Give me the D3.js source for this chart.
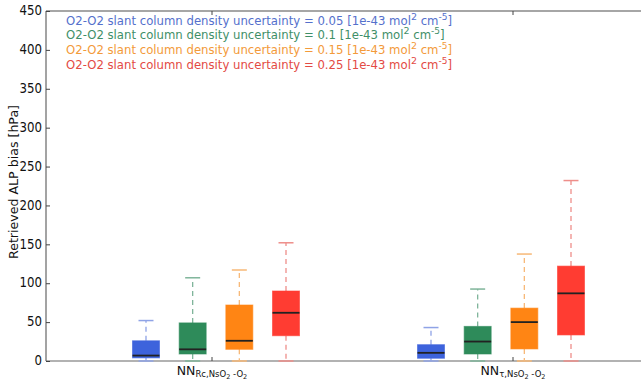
<!DOCTYPE html>
<html><head><meta charset="utf-8">
<script src="https://cdn.jsdelivr.net/npm/d3@7"></script>
<style>body{margin:0;background:#fff}svg{display:block}text{font-family:"DejaVu Sans",sans-serif}</style>
</head><body><svg id="c" width="641" height="380"></svg>
<script>
const groups = ["Rc", "τ"];
const seriesNames = ["0.05", "0.1", "0.15", "0.25"];
const boxColors = ["#3d63dc", "#2e8b5a", "#ff8514", "#ff3c32"];
const textColors = ["#5470cc", "#3f8f68", "#f39a3a", "#e34a44"];
const whiskerColors = ["#8fa3e6", "#7fb59a", "#f7b877", "#ee8e8a"];
// [group][series] = [low, q1, median, q3, high]
const statsRc = [[0, 4, 7, 26, 52], [0, 9, 15, 49, 107], [0, 15, 26, 72, 117], [0, 32.5, 62, 90, 152]];
const statsTau = [[0, 3.5, 10.5, 21, 43], [0, 9, 25, 44.5, 92.5], [0, 15.5, 50, 68, 137.5], [0, 33.5, 87, 122, 232]];
const stats = [statsRc, statsTau];
const yTicks = [0, 50, 100, 150, 200, 250, 300, 350, 400, 450];

const svg = d3.select("#c");
const L = 46, R = 645, T = 11, B = 361;
const y = d3.scaleLinear().domain([0, 450]).range([B, T]);
const gx = d3.scaleLinear().domain([0, 1]).range([216, 501]);
const tx = d3.scaleLinear().domain([0, 1]).range([212, 513]);
const off = d3.scaleLinear().domain([0, 3]).range([-70, 70]);
const bw = 27, cw = 15;

// frame
svg.append("line").attr("x1", L).attr("x2", R).attr("y1", T).attr("y2", T).attr("stroke", "#888").attr("stroke-width", 1.5);
svg.append("line").attr("x1", L).attr("x2", R).attr("y1", B).attr("y2", B).attr("stroke", "#999").attr("stroke-width", 1.5);
svg.append("line").attr("x1", L).attr("x2", L).attr("y1", T).attr("y2", B).attr("stroke", "#666").attr("stroke-width", 1.2);

// y axis
const ya = svg.append("g").attr("transform", `translate(${L},0)`)
  .call(d3.axisLeft(y).tickValues(yTicks).tickSize(-4).tickPadding(4));
ya.select(".domain").remove();
ya.selectAll("line").attr("stroke", "#444");
ya.selectAll("text").attr("font-size", 11.8).attr("fill", "#111").attr("font-family", "DejaVu Sans")
  .attr("transform", "scale(1,1.12)").attr("dy", "0.28em");
ya.selectAll(".tick text").each(function () {
  const t = d3.select(this); t.attr("y", 0);
});
svg.append("text").attr("transform", `translate(18,${(T + B) / 2 - 4}) rotate(-90)`).attr("text-anchor", "middle")
  .attr("font-size", 12.6).attr("fill", "#111").text("Retrieved ALP bias [hPa]");

// x ticks
groups.forEach((g, i) => {
  const cx = tx(i);
  svg.append("line").attr("x1", cx).attr("x2", cx).attr("y1", B).attr("y2", B - 4).attr("stroke", "#444");
  svg.append("line").attr("x1", cx).attr("x2", cx).attr("y1", T).attr("y2", T + 4).attr("stroke", "#444");
  const t = svg.append("text").attr("x", cx).attr("y", B + 14).attr("text-anchor", "middle").attr("fill", "#111").attr("font-size", 12.5);
  t.append("tspan").text("NN");
  t.append("tspan").attr("font-size", 8.5).attr("dy", 2).text(g + ",NsO");
  t.append("tspan").attr("font-size", 6.5).attr("dy", 2).text("2");
  t.append("tspan").attr("font-size", 8.5).attr("dy", -2).text(" -O");
  t.append("tspan").attr("font-size", 6.5).attr("dy", 2).text("2");
});

// boxes
stats.forEach((grp, gi) => {
  grp.forEach((s, si) => {
    const cx = gx(gi) + off(si);
    const g = svg.append("g");
    const wc = whiskerColors[si];
    g.append("line").attr("x1", cx).attr("x2", cx).attr("y1", y(s[3])).attr("y2", y(s[4])).attr("stroke", wc).attr("stroke-width", 1.3).attr("stroke-dasharray", "5,4");
    g.append("line").attr("x1", cx).attr("x2", cx).attr("y1", y(s[1])).attr("y2", y(s[0])).attr("stroke", wc).attr("stroke-width", 1.3).attr("stroke-dasharray", "5,4");
    g.append("line").attr("x1", cx - cw / 2).attr("x2", cx + cw / 2).attr("y1", y(s[4])).attr("y2", y(s[4])).attr("stroke", wc).attr("stroke-width", 1.5);
    g.append("line").attr("x1", cx - cw / 2).attr("x2", cx + cw / 2).attr("y1", y(s[0])).attr("y2", y(s[0])).attr("stroke", wc).attr("stroke-width", 1.5);
    g.append("rect").attr("x", cx - bw / 2).attr("width", bw).attr("y", y(s[3])).attr("height", y(s[1]) - y(s[3]))
      .attr("fill", boxColors[si]).attr("stroke", boxColors[si]).attr("stroke-opacity", 0.6);
    g.append("line").attr("x1", cx - bw / 2).attr("x2", cx + bw / 2).attr("y1", y(s[2])).attr("y2", y(s[2])).attr("stroke", "#222").attr("stroke-width", 1.8);
  });
});

// legend text
const ly = [25, 39, 54, 69];
seriesNames.forEach((n, i) => {
  const t = svg.append("text").attr("x", 66).attr("y", ly[i]).attr("font-size", 11.7).attr("fill", textColors[i]);
  t.append("tspan").text(`O2-O2 slant column density uncertainty = ${n} [1e-43 mol`);
  t.append("tspan").attr("dy", -5).attr("font-size", 9.5).text("2");
  t.append("tspan").attr("dy", 5).text("  cm");
  t.append("tspan").attr("dy", -5).attr("font-size", 9).text("-5");
  t.append("tspan").attr("dy", 5).text("]");
});
</script></body></html>
